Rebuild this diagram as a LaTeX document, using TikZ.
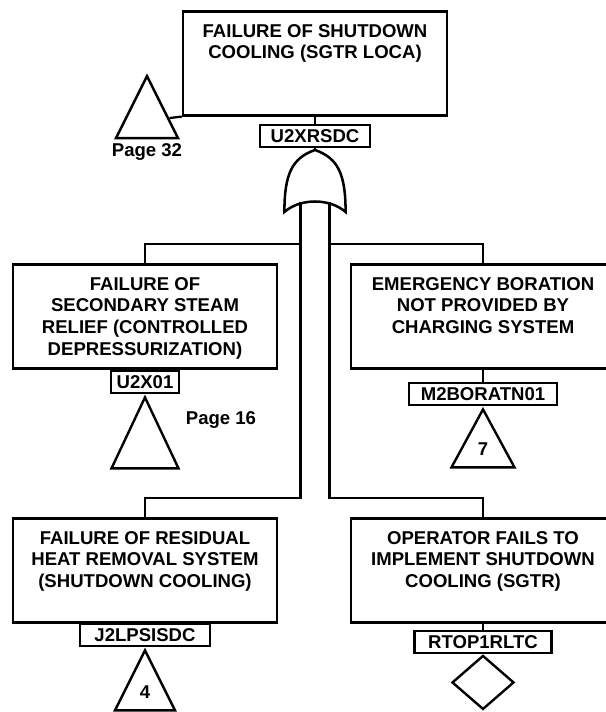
\documentclass[tikz,border=0pt]{standalone}
\usepackage{fontspec}
\setmainfont{Liberation Sans}
\usetikzlibrary{calc,shapes.geometric}

\begin{document}
\begin{tikzpicture}[
  font=\fontsize{13.2}{15.4}\selectfont\bfseries,
  event/.style={draw, line width=1.8pt, minimum width=6.6cm, align=center, anchor=north,
    inner ysep=2.85pt, text height=#1, text depth={68.3pt-#1}},
  event/.default=46.4pt,
  tag/.style={draw, line width=1.6pt, minimum height=0.55cm, inner xsep=3pt, inner ysep=0pt, anchor=north},
  xfer/.style={draw, line width=1.7pt, isosceles triangle, isosceles triangle stretches,
    shape border rotate=90, inner sep=0pt, minimum width=1.55cm, minimum height=1.55cm, anchor=apex},
  undev/.style={draw, line width=1.7pt, diamond, inner sep=0pt, minimum width=1.55cm,
    minimum height=1.35cm, anchor=north},
  wire/.style={line width=1.6pt}
]
\useasboundingbox (0,0) rectangle (15.15,-17.8);
\clip (0,0) rectangle (15.15,-17.8);

% top event and its OR gate
\node[event=31pt] (rsdc) at (7.875,-0.25) {FAILURE OF SHUTDOWN\\COOLING (SGTR LOCA)};
\node[tag, minimum width=2.75cm] (u2xrsdc) at (7.875,-3.1) {U2XRSDC};

\draw[line width=1.8pt] (7.875,-3.75) .. controls (7.3,-3.95) and (7.11,-4.35) .. (7.11,-5.3)
  .. controls (7.5,-4.95) and (8.25,-4.95) .. (8.64,-5.3)
  .. controls (8.64,-4.35) and (8.45,-3.95) .. (7.875,-3.75);
\coordinate (gate) at (7.875,-3.75);
\coordinate (in1) at (7.51,-5.06);
\coordinate (in2) at (8.24,-5.06);

\node[xfer] (p32) at (3.675,-1.825) {};
\node (pg32) at (3.675,-3.8) {Page 32};

% inputs
\node[event=61.8pt] (ssr) at (3.625,-6.575)
  {FAILURE OF\\SECONDARY STEAM\\RELIEF (CONTROLLED\\DEPRESSURIZATION)};
\node[event] (bor) at (12.075,-6.575)
  {EMERGENCY BORATION\\NOT PROVIDED BY\\CHARGING SYSTEM};
\node[event] (rhr) at (3.625,-12.925)
  {FAILURE OF RESIDUAL\\HEAT REMOVAL SYSTEM\\(SHUTDOWN COOLING)};
\node[event] (opr) at (12.075,-12.925)
  {OPERATOR FAILS TO\\IMPLEMENT SHUTDOWN\\COOLING (SGTR)};

\node[tag, minimum width=1.7cm] (u2x01) at (3.625,-9.25) {U2X01};
\node[tag, minimum width=3.7cm] (m2boratn) at (12.075,-9.55) {M2BORATN01};
\node[tag, minimum width=3.25cm] (j2lpsisdc) at (3.625,-15.575) {J2LPSISDC};
\node[tag, minimum width=3.425cm] (rtop) at (12.075,-15.75) {RTOP1RLTC};

\node[xfer, minimum width=1.675cm, minimum height=1.775cm] (p16) at (u2x01.south) {};
\node (pg16) at (5.525,-10.5) {Page 16};
\node[xfer, minimum width=1.575cm, minimum height=1.45cm] (t7) at (m2boratn.south) {7};
\node[xfer, minimum width=1.5cm, minimum height=1.5cm] (t4) at (j2lpsisdc.south) {4};
\node[undev] (d1) at (rtop.south) {};

% connectors
\draw[wire] (rsdc) -- (u2xrsdc);
\draw[wire] (u2xrsdc) -- (gate);
\draw[wire] (rsdc.south west) -- ($(p32.apex)!0.68!(p32.right corner)$);
\draw[wire] (in1) |- ([yshift=0.475cm]ssr.north) -- (ssr.north);
\draw[wire] (in1) |- ([yshift=0.475cm]rhr.north) -- (rhr.north);
\draw[wire] (in2) |- ([yshift=0.475cm]bor.north) -- (bor.north);
\draw[wire] (in2) |- ([yshift=0.475cm]opr.north) -- (opr.north);
\draw[wire] (ssr) -- (u2x01);
\draw[wire] (bor) -- (m2boratn);
\draw[wire] (rhr) -- (j2lpsisdc);
\draw[wire] (opr) -- (rtop);

\end{tikzpicture}
\end{document}
